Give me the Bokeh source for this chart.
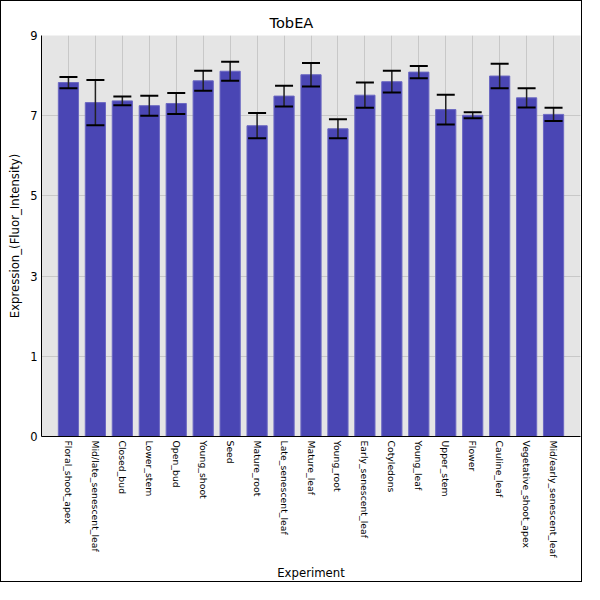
import math
from bokeh.plotting import figure
from bokeh.models import (Range1d, FixedTicker, Whisker, ColumnDataSource, TeeHead,
                          CustomJSTickFormatter)
from bokeh.embed import file_html
from bokeh.resources import INLINE

categories = ["Floral_shoot_apex", "Mid/late_senescent_leaf", "Closed_bud", "Lower_stem",
              "Open_bud", "Young_shoot", "Seed", "Mature_root", "Late_senescent_leaf",
              "Mature_leaf", "Young_root", "Early_senescent_leaf", "Cotyledons", "Young_leaf",
              "Upper_stem", "Flower", "Cauline_leaf", "Vegetative_shoot_apex",
              "Mid/early_senescent_leaf"]
values = [8.12, 7.66, 7.70, 7.59, 7.64, 8.16, 8.38, 7.13, 7.81, 8.30,
          7.06, 7.83, 8.14, 8.36, 7.50, 7.37, 8.27, 7.77, 7.39]
errors = [0.13, 0.52, 0.10, 0.23, 0.24, 0.23, 0.22, 0.29, 0.24, 0.27,
          0.22, 0.29, 0.25, 0.14, 0.34, 0.07, 0.28, 0.22, 0.15]
y_max = 9.2
n_y_intervals = 5

x = list(range(1, len(categories) + 1))
src = ColumnDataSource(dict(
    x=x, top=values,
    upper=[v + e for v, e in zip(values, errors)],
    lower=[v - e for v, e in zip(values, errors)],
))

FONT = "DejaVu Sans"

p = figure(width=582, height=582, output_backend="svg", toolbar_location=None,
           x_range=Range1d(0, len(categories) + 1), y_range=Range1d(0, y_max),
           min_border_left=40, min_border_right=3, min_border_top=34, min_border_bottom=142,
           title="TobEA")
p.styles = {"border": "1px solid black"}
p.background_fill_color = "#e5e5e5"
p.border_fill_color = "white"
p.outline_line_color = None

p.title.align = "left"
p.title.offset = 228
p.title.text_font = FONT
p.title.text_font_size = "14.6px"
p.title.text_font_style = "normal"
p.title.text_color = "black"

p.vbar(x="x", top="top", width=0.75, bottom=0, source=src,
       fill_color="#4a46b4", line_color="#6b68c2", line_width=1)

w = Whisker(base="x", upper="upper", lower="lower", source=src, level="overlay",
            line_color="#222222", line_width=1.5,
            upper_head=TeeHead(size=18, line_width=2, line_color="black"),
            lower_head=TeeHead(size=18, line_width=2, line_color="black"))
p.add_layout(w)

# y axis
p.yaxis.ticker = FixedTicker(ticks=[round(y_max * i / n_y_intervals, 6) for i in range(n_y_intervals + 1)])
p.yaxis.formatter = CustomJSTickFormatter(code="return String(Math.floor(tick + 1e-9));")
p.yaxis.axis_label = "Expression_(Fluor_Intensity)"
p.yaxis.major_tick_out = 0
p.yaxis.major_tick_in = 0
p.yaxis.minor_tick_out = 0
p.yaxis.minor_tick_in = 0
p.yaxis.major_label_text_font = FONT
p.yaxis.major_label_text_font_size = "11.5px"
p.yaxis.major_label_text_color = "black"
p.yaxis.major_label_standoff = 4
p.yaxis.axis_label_text_font = FONT
p.yaxis.axis_label_text_font_size = "11.7px"
p.yaxis.axis_label_text_font_style = "normal"
p.yaxis.axis_label_text_color = "black"
p.yaxis.axis_label_standoff = 5
p.yaxis.axis_line_color = "black"

# x axis
p.xaxis.ticker = FixedTicker(ticks=x)
p.xaxis.major_label_overrides = {i: c for i, c in zip(x, categories)}
p.xaxis.major_label_orientation = -math.pi / 2
p.xaxis.axis_label = "Experiment"
p.xaxis.major_tick_out = 0
p.xaxis.major_tick_in = 0
p.xaxis.minor_tick_out = 0
p.xaxis.minor_tick_in = 0
p.xaxis.major_label_text_font = FONT
p.xaxis.major_label_text_font_size = "9.3px"
p.xaxis.major_label_text_color = "black"
p.xaxis.major_label_standoff = 4
p.xaxis.axis_label_text_font = FONT
p.xaxis.axis_label_text_font_size = "11.7px"
p.xaxis.axis_label_text_font_style = "normal"
p.xaxis.axis_label_text_color = "black"
p.xaxis.axis_label_standoff = 6
p.xaxis.axis_line_color = "black"

p.xgrid.grid_line_color = "#c8c8c8"
p.ygrid.grid_line_color = "#c8c8c8"

open("out.html", "w").write(file_html(p, INLINE))
